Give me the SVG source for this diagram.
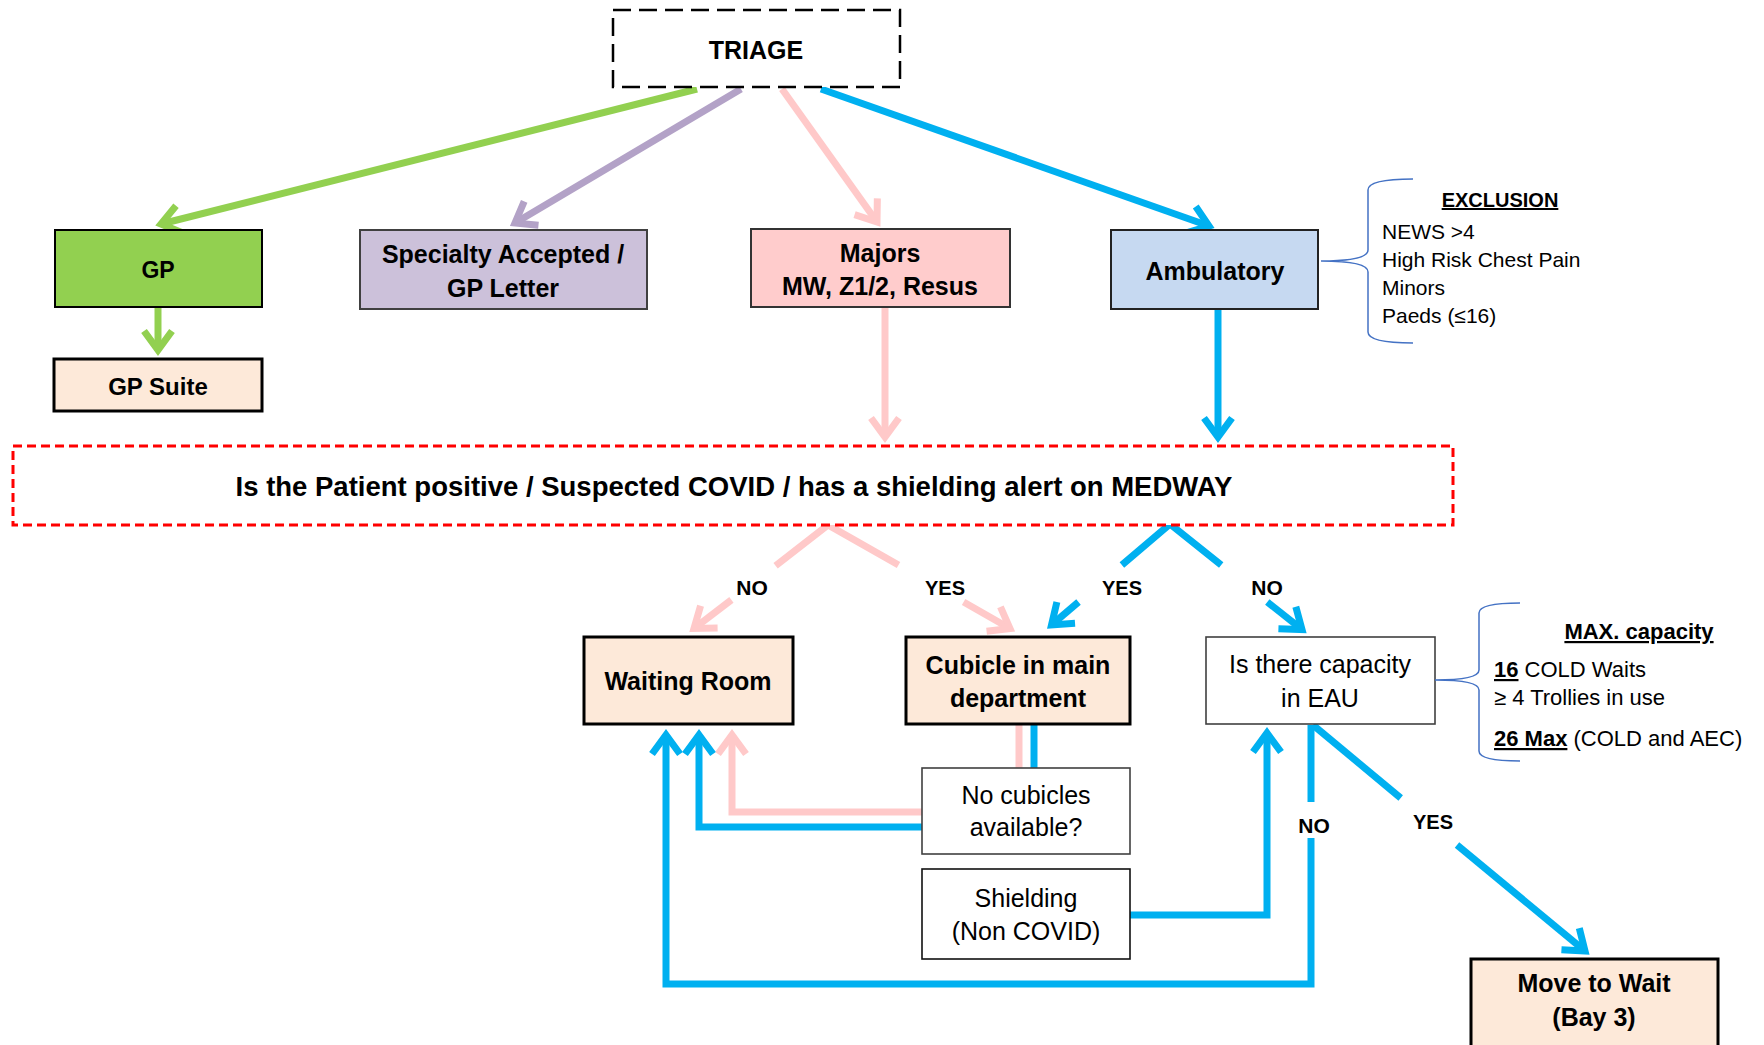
<svg xmlns="http://www.w3.org/2000/svg" width="1764" height="1045" viewBox="0 0 1764 1045">
  <style>
    text { font-family: "Liberation Sans", Arial, sans-serif; fill: #000; }
    .lbl { font-weight: bold; font-size: 25px; text-anchor: middle; }
    .reg { font-size: 25px; text-anchor: middle; }
    .yn { font-weight: bold; font-size: 20px; text-anchor: middle; }
    .yn-no { font-size: 21px; }
    .note { font-size: 21px; }
    .cap { font-size: 22px; }
    .peach { fill: #fde9d9; stroke: #000; stroke-width: 3; }
    .plain { fill: #fff; stroke: #404040; stroke-width: 1.6; }
    .ln { fill: none; stroke-width: 7; stroke-linejoin: miter; }
    .green { stroke: #92d050; }
    .purple { stroke: #b3a2c7; }
    .pink { stroke: #ffc9c9; }
    .blue { stroke: #00b0f0; }
    .brace { fill: none; stroke: #4472c4; stroke-width: 1.5; }
  </style>
  <defs>
    <marker id="ah-green" markerUnits="userSpaceOnUse" orient="auto" viewBox="-30 -20 40 40" markerWidth="40" markerHeight="40" refX="0" refY="0" overflow="visible">
      <path d="M-19,-14 L0,0 L-19,14" fill="none" stroke="#92d050" stroke-width="7"/>
    </marker>
    <marker id="ah-purple" markerUnits="userSpaceOnUse" orient="auto" viewBox="-30 -20 40 40" markerWidth="40" markerHeight="40" refX="0" refY="0" overflow="visible">
      <path d="M-19,-14 L0,0 L-19,14" fill="none" stroke="#b3a2c7" stroke-width="7"/>
    </marker>
    <marker id="ah-pink" markerUnits="userSpaceOnUse" orient="auto" viewBox="-30 -20 40 40" markerWidth="40" markerHeight="40" refX="0" refY="0" overflow="visible">
      <path d="M-19,-14 L0,0 L-19,14" fill="none" stroke="#ffc9c9" stroke-width="7"/>
    </marker>
    <marker id="ah-blue" markerUnits="userSpaceOnUse" orient="auto" viewBox="-30 -20 40 40" markerWidth="40" markerHeight="40" refX="0" refY="0" overflow="visible">
      <path d="M-19,-14 L0,0 L-19,14" fill="none" stroke="#00b0f0" stroke-width="7"/>
    </marker>
  </defs>

  <rect width="1764" height="1045" fill="#fff"/>

  <!-- connectors -->
  <g id="connectors">
    <!-- from triage -->
    <path class="ln green" d="M697,89 L161,224" marker-end="url(#ah-green)"/>
    <path class="ln purple" d="M741,89 L515,223" marker-end="url(#ah-purple)"/>
    <path class="ln pink" d="M782,89 L877,222" marker-end="url(#ah-pink)"/>
    <path class="ln blue" d="M821,89 L1209,226" marker-end="url(#ah-blue)"/>
    <!-- GP to GP Suite -->
    <path class="ln green" d="M158,308 L158,350" marker-end="url(#ah-green)"/>
    <!-- into the COVID question -->
    <path class="ln pink" d="M885,308 L885,437" marker-end="url(#ah-pink)"/>
    <path class="ln blue" d="M1218,310 L1218,437" marker-end="url(#ah-blue)"/>

    <!-- pink branches -->
    <path class="ln pink" d="M775.6,565.7 L828,525 L898.5,565"/>
    <path class="ln pink" d="M731.4,599.9 L694,628.5" marker-end="url(#ah-pink)"/>
    <path class="ln pink" d="M963.6,602 L1010,628.5" marker-end="url(#ah-pink)"/>

    <!-- blue branches -->
    <path class="ln blue" d="M1121.9,565 L1170,524 L1221.2,565"/>
    <path class="ln blue" d="M1078.5,602 L1051.5,625" marker-end="url(#ah-blue)"/>
    <path class="ln blue" d="M1267.3,602 L1302,629.5" marker-end="url(#ah-blue)"/>

    <!-- cubicle to no cubicles -->
    <path class="ln pink" d="M1019,724 L1019,768"/>
    <path class="ln blue" d="M1034,724 L1034,768"/>

    <!-- no cubicles back to waiting room -->
    <path class="ln pink" d="M922,812 L732,812 L732,735" marker-end="url(#ah-pink)"/>
    <path class="ln blue" d="M922,827 L699,827 L699,735" marker-end="url(#ah-blue)"/>

    <!-- shielding to EAU -->
    <path class="ln blue" d="M1130,915 L1267,915 L1267,733" marker-end="url(#ah-blue)"/>

    <!-- EAU NO loop to waiting room -->
    <path class="ln blue" d="M1311,725 L1311,802"/>
    <path class="ln blue" d="M1311,838 L1311,984 L666,984 L666,735" marker-end="url(#ah-blue)"/>

    <!-- EAU YES to move to wait -->
    <path class="ln blue" d="M1313,725 L1400.7,798"/>
    <path class="ln blue" d="M1457,845 L1585,951" marker-end="url(#ah-blue)"/>
  </g>

  <!-- nodes -->
  <g id="triage">
    <rect x="613" y="10" width="287" height="77" fill="#fff" stroke="#000" stroke-width="2.5" stroke-dasharray="18,8"/>
    <text class="lbl" x="756" y="59">TRIAGE</text>
  </g>

  <g id="gp">
    <rect x="55" y="230" width="207" height="77" fill="#92d050" stroke="#000" stroke-width="2"/>
    <text class="lbl" x="158" y="278" style="font-size:23px">GP</text>
  </g>

  <g id="gp-suite">
    <rect x="54" y="359" width="208" height="52" class="peach"/>
    <text class="lbl" x="158" y="395" style="font-size:24px">GP Suite</text>
  </g>

  <g id="specialty">
    <rect x="360" y="230" width="287" height="79" fill="#ccc1da" stroke="#404040" stroke-width="2"/>
    <text class="lbl" x="503" y="263">Specialty Accepted /</text>
    <text class="lbl" x="503" y="297">GP Letter</text>
  </g>

  <g id="majors">
    <rect x="751" y="229" width="259" height="78" fill="#ffcccc" stroke="#333" stroke-width="2"/>
    <text class="lbl" x="880" y="262">Majors</text>
    <text class="lbl" x="880" y="295">MW, Z1/2, Resus</text>
  </g>

  <g id="ambulatory">
    <rect x="1111" y="230" width="207" height="79" fill="#c6d9f1" stroke="#222" stroke-width="2"/>
    <text class="lbl" x="1215" y="280">Ambulatory</text>
  </g>

  <g id="exclusion">
    <path class="brace" d="M1413,179 Q1368,179 1368,190 L1368,250 Q1368,261 1321,261 Q1368,261 1368,272 L1368,332 Q1368,343 1413,343"/>
    <text x="1500" y="207" style="font-size:20px;font-weight:bold;text-anchor:middle;text-decoration:underline">EXCLUSION</text>
    <text class="note" x="1382" y="239">NEWS &gt;4</text>
    <text class="note" x="1382" y="267">High Risk Chest Pain</text>
    <text class="note" x="1382" y="295">Minors</text>
    <text class="note" x="1382" y="323">Paeds (≤16)</text>
  </g>

  <g id="covid-question">
    <rect x="13" y="446" width="1440" height="79" fill="#fff" stroke="#ff0000" stroke-width="3" stroke-dasharray="9,5"/>
    <text x="734" y="496" style="font-size:27.5px;font-weight:bold;text-anchor:middle">Is the Patient positive / Suspected COVID / has a shielding alert on MEDWAY</text>
  </g>

  <g id="branch-labels">
    <text class="yn yn-no" x="752" y="595">NO</text>
    <text class="yn" x="945" y="595">YES</text>
    <text class="yn" x="1122" y="595">YES</text>
    <text class="yn yn-no" x="1267" y="595">NO</text>
    <text class="yn yn-no" x="1314" y="833">NO</text>
    <text class="yn" x="1433" y="829">YES</text>
  </g>

  <g id="waiting-room">
    <rect x="584" y="637" width="209" height="87" class="peach"/>
    <text class="lbl" x="688" y="690">Waiting Room</text>
  </g>

  <g id="cubicle">
    <rect x="906" y="637" width="224" height="87" class="peach"/>
    <text class="lbl" x="1018" y="674">Cubicle in main</text>
    <text class="lbl" x="1018" y="707">department</text>
  </g>

  <g id="eau-capacity">
    <rect x="1206" y="637" width="229" height="87" class="plain"/>
    <text class="reg" x="1320" y="673">Is there capacity</text>
    <text class="reg" x="1320" y="707">in EAU</text>
  </g>

  <g id="max-capacity">
    <path class="brace" d="M1520,603 Q1479,603 1479,613 L1479,670 Q1479,680 1435,680 Q1479,680 1479,690 L1479,751 Q1479,761 1520,761"/>
    <text x="1639" y="639" style="font-size:22px;font-weight:bold;text-anchor:middle;text-decoration:underline">MAX. capacity</text>
    <text class="cap" x="1494" y="677"><tspan font-weight="bold" text-decoration="underline">16</tspan> COLD Waits</text>
    <text class="cap" x="1494" y="705">≥ 4 Trollies in use</text>
    <text class="cap" x="1494" y="746"><tspan font-weight="bold" text-decoration="underline">26 Max</tspan> (COLD and AEC)</text>
  </g>

  <g id="no-cubicles">
    <rect x="922" y="768" width="208" height="86" class="plain"/>
    <text class="reg" x="1026" y="804">No cubicles</text>
    <text class="reg" x="1026" y="836">available?</text>
  </g>

  <g id="shielding">
    <rect x="922" y="869" width="208" height="90" fill="#fff" stroke="#111" stroke-width="1.6"/>
    <text class="reg" x="1026" y="907">Shielding</text>
    <text class="reg" x="1026" y="940">(Non COVID)</text>
  </g>

  <g id="move-to-wait">
    <rect x="1471" y="959" width="247" height="100" class="peach"/>
    <text class="lbl" x="1594" y="992">Move to Wait</text>
    <text class="lbl" x="1594" y="1026">(Bay 3)</text>
  </g>
</svg>
